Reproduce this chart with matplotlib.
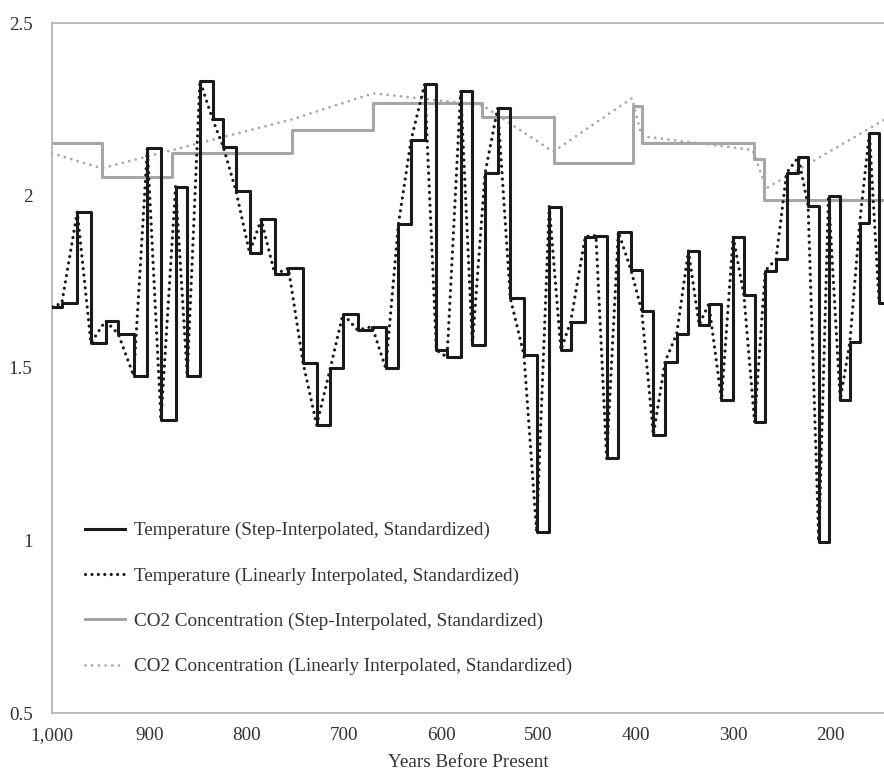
import numpy as np
import matplotlib
matplotlib.use("Agg")
import matplotlib.pyplot as plt
from matplotlib.ticker import FuncFormatter

# temperature record (years before present, standardized values)
temp_years = [1000, 990, 974, 960, 945, 932, 916, 902, 888, 873,
              861, 848, 835, 824, 811, 797, 785, 771, 757, 742,
              728, 714, 701, 686, 671, 657, 644, 631, 617, 605,
              594, 580, 568, 555, 542, 529, 515, 502, 489, 477,
              467, 452, 441, 430, 418, 405, 394, 382, 370, 358,
              346, 335, 325, 312, 300, 289, 278, 267, 256, 245,
              233, 223, 212, 202, 190, 180, 170, 160, 150]
temp_vals = [1.678, 1.687, 1.953, 1.572, 1.637, 1.599, 1.477, 2.137, 1.349, 2.026,
             1.477, 2.333, 2.221, 2.141, 2.014, 1.834, 1.931, 1.772, 1.789, 1.515,
             1.335, 1.499, 1.657, 1.610, 1.620, 1.499, 1.917, 2.161, 2.323, 1.552,
             1.531, 2.304, 1.567, 2.064, 2.253, 1.702, 1.538, 1.025, 1.968, 1.552,
             1.634, 1.881, 1.884, 1.238, 1.895, 1.784, 1.666, 1.306, 1.518, 1.599,
             1.840, 1.625, 1.686, 1.407, 1.881, 1.712, 1.344, 1.782, 1.815, 2.066,
             2.111, 1.970, 0.997, 1.999, 1.407, 1.576, 1.921, 2.182, 1.687]

# CO2, step-interpolated
co2_step_years = [1000, 949, 877, 753, 670, 558, 484, 403, 394, 279, 268]
co2_step_vals = [2.151, 2.055, 2.122, 2.190, 2.269, 2.227, 2.095, 2.259, 2.151, 2.106, 1.987]

# CO2, linearly interpolated
co2_lin_years = [1000, 949, 753, 670, 558, 485, 404, 394, 280, 266, 145]
co2_lin_vals = [2.122, 2.079, 2.221, 2.296, 2.262, 2.127, 2.282, 2.172, 2.132, 2.021, 2.219]

x_ticks = [1000, 900, 800, 700, 600, 500, 400, 300, 200]
y_ticks = [0.5, 1, 1.5, 2, 2.5]
X_END = 145

labels = ["Temperature (Step-Interpolated, Standardized)",
          "Temperature (Linearly Interpolated, Standardized)",
          "CO2 Concentration (Step-Interpolated, Standardized)",
          "CO2 Concentration (Linearly Interpolated, Standardized)"]

plt.rcParams["font.family"] = ["Liberation Serif", "DejaVu Serif"]
FS = 13.8

fig = plt.figure(figsize=(8.84, 7.74), dpi=100)
ax = fig.add_axes([52 / 884, 1 - 713 / 774, 1 - 52 / 884, (713 - 23) / 774])

BLACK = "#1a1a1a"
GRAY = "#a6a6a6"

ty = np.append(temp_years, X_END)
tv = np.append(temp_vals, temp_vals[-1])
cy = np.append(co2_step_years, X_END)
cv = np.append(co2_step_vals, co2_step_vals[-1])

ax.step(ty, tv, where="post", color=BLACK, lw=2.2, label=labels[0], zorder=4)
ax.plot(temp_years, temp_vals, color=BLACK, lw=2.3, ls=(0, (0.01, 2.0)),
        dash_capstyle="round", label=labels[1], zorder=5)
ax.step(cy, cv, where="post", color=GRAY, lw=2.2, label=labels[2], zorder=2)
ax.plot(co2_lin_years, co2_lin_vals, color=GRAY, lw=2.0, ls=(0, (0.01, 2.4)),
        dash_capstyle="round", label=labels[3], zorder=3)

ax.set_xlim(1000, X_END)
ax.set_ylim(0.5, 2.5)
ax.set_xticks(x_ticks)
ax.set_yticks(y_ticks)
ax.xaxis.set_major_formatter(FuncFormatter(lambda v, p: f"{int(v):,}"))
ax.yaxis.set_major_formatter(FuncFormatter(lambda v, p: f"{v:g}"))
ax.tick_params(length=0, labelsize=FS, colors="#333333")
ax.tick_params(axis="y", pad=14)
ax.tick_params(axis="x", pad=10)
ax.set_xlabel("Years Before Present", fontsize=FS, color="#333333", labelpad=7)

for s in ["left", "top", "bottom"]:
    ax.spines[s].set_color("#b0b0b0")
    ax.spines[s].set_linewidth(1.2)
ax.spines["right"].set_visible(False)

leg = ax.legend(loc="upper left", bbox_to_anchor=((85 - 52) / 832, (713 - 522) / 690),
                frameon=False, fontsize=FS, handlelength=2.1, handletextpad=0.45,
                labelspacing=1.45, borderpad=0, borderaxespad=0)
for t in leg.get_texts():
    t.set_color("#333333")

fig.savefig("out.png", dpi=100)
